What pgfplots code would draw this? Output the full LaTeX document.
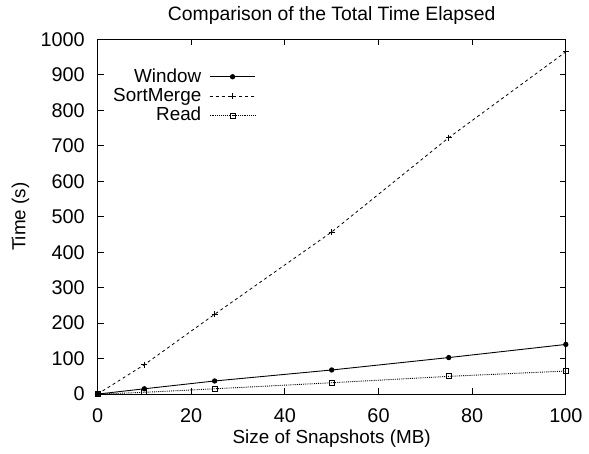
\documentclass[border=0pt]{standalone}
\usepackage{fontspec}
\setmainfont{Liberation Sans}
\usepackage{pgfplots}
\pgfplotsset{compat=1.18}

\begin{document}
\fontsize{20}{22}\selectfont
\begin{tikzpicture}
\begin{axis}[
    scale only axis,
    width=470bp,
    height=356bp,
    xmin=0, xmax=100,
    ymin=0, ymax=1000,
    xtick={0,20,40,60,80,100},
    ytick={0,100,200,300,400,500,600,700,800,900,1000},
    tick align=inside,
    major tick length=6bp,
    axis line style={line width=1pt},
    tick style={line width=0.8pt, black},
    /pgf/number format/assume math mode=true,
    /pgf/number format/1000 sep={},
    ticklabel style={font=\fontsize{20}{22}\selectfont},
    yticklabel style={xshift=-6bp},
    xticklabel style={yshift=-8bp},
    title={Comparison of the Total Time Elapsed},
    title style={font=\fontsize{19.5}{21}\selectfont, yshift=2bp},
    xlabel={Size of Snapshots (MB)},
    ylabel={Time (s)},
    xlabel style={font=\fontsize{19}{21}\selectfont, yshift=7bp},
    ylabel style={font=\fontsize{19}{21}\selectfont, yshift=-2bp},
    legend style={at={(0.345,0.93)}, anchor=north east, draw=none, fill=none,
        font=\fontsize{19}{21}\selectfont, row sep=-1bp,
        /tikz/every odd column/.append style={column sep=6bp}},
    legend plot pos=right,
    legend cell align=right,
    legend image code/.code={
        \draw[mark repeat=2, mark phase=2] plot coordinates {(0bp,0bp) (23bp,0bp) (46bp,0bp)};
    },
]
\addplot[black, line width=0.9pt, mark=*, mark size=2.2pt] coordinates {
    (0,0) (10,15) (25,37) (50,68) (75,103) (100,140)
};
\addlegendentry{Window}
\addplot[black, line width=0.8pt, dashed, mark=+, mark size=3pt, mark options={solid}] coordinates {
    (0,0) (10,83) (25,225) (50,457) (75,723) (100,965)
};
\addlegendentry{SortMerge}
\addplot[black, line width=0.9pt, densely dotted, mark=square, mark size=2.5pt, mark options={solid}] coordinates {
    (0,0) (10,5) (25,15) (50,32) (75,50) (100,65)
};
\addlegendentry{Read}
\end{axis}
\path (current bounding box.south west) ++(-5bp,0);
\end{tikzpicture}
\end{document}
